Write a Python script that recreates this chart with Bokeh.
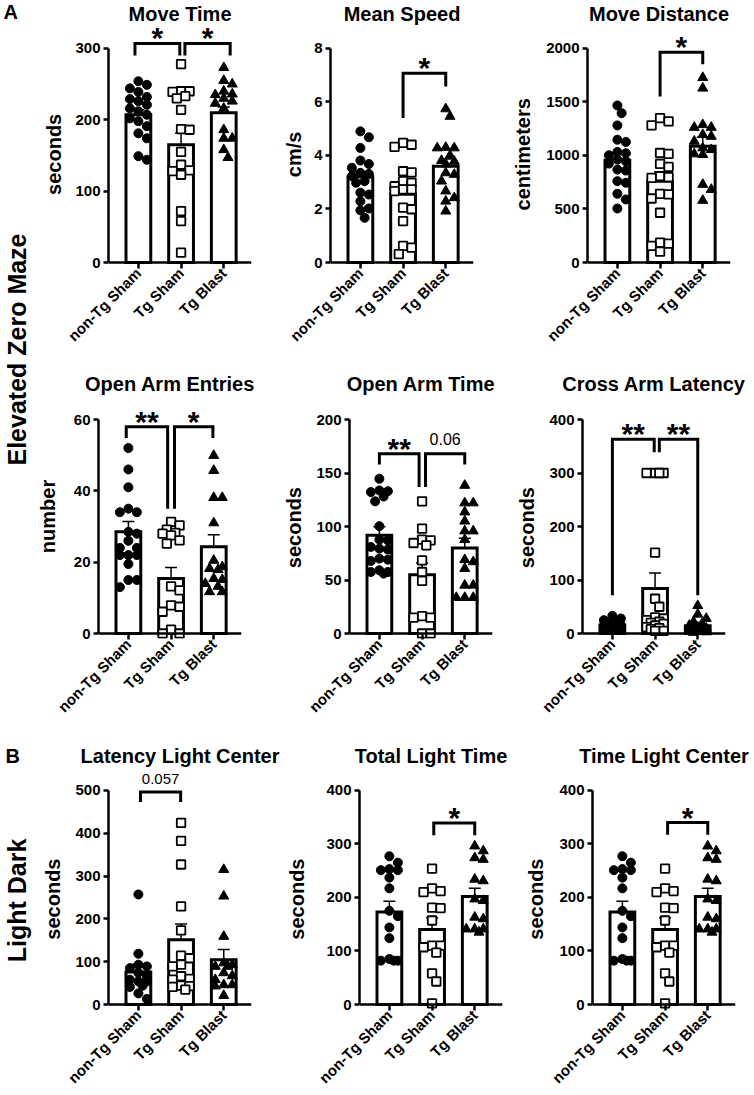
import math
from bokeh.plotting import figure
from bokeh.models import Range1d, FixedTicker, Whisker, TeeHead, ColumnDataSource, Span
from bokeh.layouts import row, column
from bokeh.embed import file_html
from bokeh.resources import INLINE
from bokeh.core.properties import value

FONT = "Liberation Sans"
GROUPS = ["non-Tg Sham", "Tg Sham", "Tg Blast"]

# ---------------- data ----------------
move_time_nontg = [254, 249, 244, 239, 232, 229, 226, 221, 216, 212, 207, 202, 198, 191, 181, 174, 149, 144]
move_time_tgsham = [278, 240, 240, 239, 233, 230, 214, 187, 186, 155, 137, 129, 128, 123, 72, 58, 14]
move_time_tgblast = [273, 255, 250, 240, 236, 235, 230, 226, 223, 216, 186, 174, 174, 158, 147]
move_time_mean = [207, 165, 210]
move_time_sem = [7, 16, 8]

mean_speed_nontg = [4.90, 4.68, 4.28, 3.81, 3.68, 3.54, 3.35, 3.31, 3.23, 3.04, 2.98, 2.61, 2.54, 2.29, 2.02, 1.95, 1.67]
mean_speed_tgsham = [4.47, 4.40, 4.32, 3.41, 3.37, 3.04, 2.98, 2.85, 2.73, 2.73, 2.67, 2.05, 1.99, 1.55, 0.62, 0.56, 0.31]
mean_speed_tgblast = [5.74, 5.46, 4.30, 4.28, 4.28, 4.00, 3.81, 3.78, 3.68, 3.35, 3.29, 3.04, 2.67, 2.42, 2.29, 1.92]
mean_speed_mean = [3.2, 2.55, 3.6]
mean_speed_sem = [0.2, 0.3, 0.27]

move_dist_nontg = [1467, 1395, 1281, 1147, 1126, 1033, 1020, 1002, 961, 946, 924, 868, 859, 760, 745, 642, 589, 505]
move_dist_tgsham = [1349, 1318, 1281, 1023, 1014, 921, 893, 806, 797, 791, 642, 636, 598, 465, 186, 177, 155, 102]
move_dist_tgblast = [1727, 1628, 1287, 1262, 1262, 1194, 1178, 1132, 1070, 1054, 1014, 1008, 729, 682, 580]
move_dist_mean = [955, 760, 1085]
move_dist_sem = [68, 88, 85]

oa_entries_nontg = [52, 46, 41, 35, 34, 34, 28.5, 28, 26, 24, 24, 22, 22, 22, 19.5, 15, 15, 13]
oa_entries_tgsham = [31.3, 30.3, 29.1, 28.2, 28, 27.5, 26.1, 25.2, 13.2, 12.1, 7.9, 7.5, 6.1, 1.1, 0, 0]
oa_entries_tgblast = [49.9, 45.7, 38.1, 38.1, 31.0, 20.5, 18.7, 18.2, 17.9, 15.4, 15.1, 14.0, 13.2, 11.7, 11.7]
oa_entries_mean = [28.5, 15.4, 24.3]
oa_entries_sem = [2.9, 3.1, 3.4]

oa_time_nontg = [144.6, 133.7, 133, 132.2, 128, 123.5, 100.3, 87.7, 87.1, 80.9, 79.3, 78.4, 70, 69, 67.8, 59.1, 57.5, 57.5, 56]
oa_time_tgsham = [123.5, 98, 87.7, 87.1, 84.6, 82.4, 68.4, 57.5, 49.1, 16.2, 14.9, 14.9, 0, 0]
oa_time_tgblast = [138.4, 122, 122, 113.5, 105, 95.8, 95.8, 87.7, 69, 67, 60.7, 45.1, 45.1, 33.6, 33.6, 33.6]
oa_time_mean = [91.8, 55, 80]
oa_time_sem = [8, 11, 9]

cross_lat_nontg = [33, 28, 25, 22, 20, 18, 16, 15, 14, 13, 12, 12, 11, 10, 9, 8, 7]
cross_lat_tgsham = [300, 300, 300, 300, 151, 65, 50, 30, 28, 25, 22, 20, 18, 15, 12, 10, 8, 5, 5]
cross_lat_tgblast = [52, 36, 28, 22, 18, 15, 12, 10, 8, 6, 5, 4, 3, 2]
cross_lat_mean = [15.5, 84, 14.5]
cross_lat_sem = [2, 29, 4]

lat_light_nontg = [257, 118.6, 93, 89, 85, 74, 66, 58, 54, 54, 44, 41, 26, 13]
lat_light_tgsham = [424, 382, 327, 229, 173, 114, 108, 93, 89, 66, 60, 58, 44, 43, 41, 35]
lat_light_tgblast = [315, 253, 159, 97, 93, 89, 89, 74, 67, 58, 46, 46, 43, 21]
lat_light_mean = [76, 151, 104.5]
lat_light_sem = [18, 37, 24]

tot_light_nontg = [277, 265, 253, 251, 251, 237, 217, 175, 165, 144, 124, 85, 82, 82, 82]
tot_light_tgsham = [254, 217, 212, 210, 181, 180, 157, 110, 110, 107, 97, 58, 43, 2]
tot_light_tgblast = [296, 287, 274, 271, 234, 231, 197, 194, 163, 160, 141, 141, 141, 135]
tot_light_mean = [173, 140, 202]
tot_light_sem = [20, 22, 15]

time_center_nontg = [277, 265, 253, 251, 251, 237, 217, 175, 165, 144, 124, 85, 82, 82, 82]
time_center_tgsham = [254, 217, 212, 210, 181, 180, 157, 110, 110, 107, 97, 58, 43, 2]
time_center_tgblast = [296, 287, 274, 271, 234, 231, 197, 194, 163, 160, 141, 141, 141, 135]
time_center_mean = [173, 140, 202]
time_center_sem = [20, 22, 15]

# significance brackets: from-x, to-x, top, left leg end, right leg end, label
move_time_br = dict(x1=[-0.08, 1.09], x2=[0.97, 2.15], top=[307, 307], lend=[290, 290], rend=[290, 290], lab=["*", "*"])
mean_speed_br = dict(x1=[1.0], x2=[2.0], top=[7.07], lend=[5.40], rend=[6.58], lab=["*"])
move_dist_br = dict(x1=[1.0], x2=[2.0], top=[1963], lend=[1550], rend=[1851], lab=["*"])
oa_entries_br = dict(x1=[-0.05, 1.08], x2=[0.92, 1.98], top=[58, 58], lend=[54.8, 35.0], rend=[35.0, 54.8], lab=["**", "*"])
oa_time_br = dict(x1=[0.0, 1.08], x2=[0.93, 2.0], top=[168, 168], lend=[158, 137], rend=[137, 158], lab=["**", "0.06"])
cross_lat_br = dict(x1=[0.0, 1.1], x2=[0.98, 2.0], top=[363, 363], lend=[71.5, 339], rend=[339, 71.5], lab=["**", "**"])
lat_light_br = dict(x1=[0.05], x2=[0.99], top=[496], lend=[473], rend=[473], lab=["0.057"])
tot_light_br = dict(x1=[1.04], x2=[2.0], top=[339], lend=[316], rend=[316], lab=["*"])
time_center_br = dict(x1=[1.06], x2=[2.0], top=[340], lend=[317], rend=[317], lab=["*"])

X0, X1 = -0.7, 2.65
NBSP = "\u00a0"
MARK = [dict(marker="circle", fill_color="black", line_color="black", size=9, line_width=1),
        dict(marker="square", fill_color="white", line_color="black", size=8.5, line_width=1.8),
        dict(marker="triangle", fill_color="black", line_color="black", size=10, line_width=1)]


def swarm(vals, ppu_y, d=8.5, maxoff=11.0):
    step = d * 0.5
    cands = [0.0]
    k = 1
    while k * step <= maxoff:
        cands += [k * step, -k * step]
        k += 1
    order = sorted(range(len(vals)), key=lambda i: -vals[i])
    placed = []
    offs = [0.0] * len(vals)
    for i in order:
        y = vals[i] * ppu_y
        chosen = None
        bestd, bestc = -1, 0.0
        for c in cands:
            md = min([math.hypot(c - px, y - py) for px, py in placed], default=1e9)
            if md >= d:
                chosen = c
                break
            if md > bestd:
                bestd, bestc = md, c
        if chosen is None:
            chosen = bestc
        offs[i] = chosen
        placed.append((chosen, y))
    return offs


def label_style(lbl):
    if set(lbl) == {"*"}:
        return "30px", "bold", 5.5
    if lbl == "0.06":
        return "16px", "normal", 15.0
    return "15px", "normal", 13.0


def make_panel(title, ylabel, ticks, pts, means, sems, br, geo):
    W, H, bl, brd, bt, bb, y0c, ytopc, als, pad = geo
    ymax = ticks[-1]
    ppu = (y0c - ytopc) / ymax
    fb = H - bb
    ystart = -(fb - y0c) / ppu
    yend = (y0c - bt) / ppu
    FW = W - bl - brd
    ppx = FW / (X1 - X0)
    p = figure(width=W, height=H, x_range=Range1d(X0, X1), y_range=Range1d(ystart, yend),
               min_border_left=bl, min_border_right=brd, min_border_top=bt, min_border_bottom=bb,
               toolbar_location=None, output_backend="svg")
    p.outline_line_color = None
    p.grid.visible = False

    p.title.text = title
    p.title.align = "center"
    p.title.standoff = 0
    p.title.text_font = FONT
    p.title.text_font_size = "20px"
    p.title.text_font_style = "bold"
    p.title.text_color = "black"

    xa = p.xaxis[0]
    xa.ticker = FixedTicker(ticks=[0, 1, 2])
    xa.major_label_overrides = {0: GROUPS[0], 1: GROUPS[1], 2: GROUPS[2]}
    xa.major_label_orientation = math.pi / 4
    xa.axis_line_color = None
    xa.major_tick_line_width = 2.5
    xa.major_tick_out = 1
    xa.major_tick_in = int(round(fb - y0c))
    xa.minor_tick_line_color = None
    xa.major_label_text_font = FONT
    xa.major_label_text_font_size = "15px"
    xa.major_label_text_font_style = "bold"
    xa.major_label_text_color = "black"
    xa.major_label_standoff = 2

    ya = p.yaxis[0]
    ya.ticker = FixedTicker(ticks=ticks)
    ya.bounds = (0, ymax)
    ya.axis_line_width = 2.5
    ya.major_tick_line_width = 2.5
    ya.major_tick_out = 5
    ya.major_tick_in = 0
    ya.minor_tick_line_color = None
    ya.major_label_text_font = FONT
    ya.major_label_text_font_size = "15px"
    ya.major_label_text_font_style = "bold"
    ya.major_label_text_color = "black"
    ya.major_label_standoff = 3
    ya.axis_label = ylabel + NBSP * pad
    ya.axis_label_standoff = als
    ya.axis_label_text_font = FONT
    ya.axis_label_text_font_size = "20px"
    ya.axis_label_text_font_style = "bold"
    ya.axis_label_text_color = "black"

    p.add_layout(Span(location=0, dimension="width", line_color="black", line_width=2.5))

    p.vbar(x=[0, 1, 2], top=means, bottom=0, width=0.58, fill_color="white",
           line_color="black", line_width=3, line_join="miter")

    for gi, vals in enumerate(pts):
        offs = swarm(vals, ppu)
        xs = [gi + o / ppx for o in offs]
        m = MARK[gi]
        p.scatter(x=xs, y=vals, marker=m["marker"], size=m["size"], fill_color=m["fill_color"],
                  line_color=m["line_color"], line_width=m["line_width"])

    src = ColumnDataSource(dict(x=[0, 1, 2], up=[m + s for m, s in zip(means, sems)],
                                lo=[m - s for m, s in zip(means, sems)]))
    wh = Whisker(base="x", upper="up", lower="lo", source=src, dimension="height",
                 line_color="black", line_width=1.5,
                 upper_head=TeeHead(size=12, line_width=1.5, line_color="black"),
                 lower_head=TeeHead(size=12, line_width=1.5, line_color="black"))
    p.add_layout(wh)

    for x1, x2, t, le, re, lab in zip(br["x1"], br["x2"], br["top"], br["lend"], br["rend"], br["lab"]):
        p.multi_line(xs=[[x1, x1, x2, x2]], ys=[[le, t, t, re]], line_color="black",
                     line_width=3, line_join="miter")
        fs, st, off = label_style(lab)
        p.text(x=[(x1 + x2) / 2], y=[t + off / ppu], text=[lab], text_align="center",
               text_baseline="alphabetic", text_font=value(FONT), text_font_size=fs,
               text_font_style=st, text_color="black")
    return p


R1 = (370, 23, 103, 262, 47)
R2 = (372, 24, 104, 263, 49)
R3 = (353, 24, 85, 263, 48)


def g(W, bl, brd, als, pad, r):
    H, bt, bb, y0c, ytopc = r
    return (W, H, bl, brd, bt, bb, y0c, ytopc, als, pad)


f1 = make_panel("Move Time", "seconds", [0, 100, 200, 300],
                [move_time_nontg, move_time_tgsham, move_time_tgblast], move_time_mean, move_time_sem,
                move_time_br, g(229, 76, 10, 7, 3, R1))
f2 = make_panel("Mean Speed", "cm/s", [0, 2, 4, 6, 8],
                [mean_speed_nontg, mean_speed_tgsham, mean_speed_tgblast], mean_speed_mean, mean_speed_sem,
                mean_speed_br, g(222, 69, 10, 6, 3, R1))
f3 = make_panel("Move Distance", "centimeters", [0, 500, 1000, 1500, 2000],
                [move_dist_nontg, move_dist_tgsham, move_dist_tgblast], move_dist_mean, move_dist_sem,
                move_dist_br, g(267, 104, 20, 9, 3, R1))
f4 = make_panel("Open Arm Entries", "number", [0, 20, 40, 60],
                [oa_entries_nontg, oa_entries_tgsham, oa_entries_tgblast], oa_entries_mean, oa_entries_sem,
                oa_entries_br, g(229, 66, 20, 12, 0, R2))
f5 = make_panel("Open Arm Time", "seconds", [0, 50, 100, 150, 200],
                [oa_time_nontg, oa_time_tgsham, oa_time_tgblast], oa_time_mean, oa_time_sem,
                oa_time_br, g(241, 88, 10, 8, 4, R2))
f6 = make_panel("Cross Arm Latency", "seconds", [0, 100, 200, 300, 400],
                [cross_lat_nontg, cross_lat_tgsham, cross_lat_tgblast], cross_lat_mean, cross_lat_sem,
                cross_lat_br, g(248, 80, 25, 8, 4, R2))
f7 = make_panel("Latency Light Center", "seconds", [0, 100, 200, 300, 400, 500],
                [lat_light_nontg, lat_light_tgsham, lat_light_tgblast], lat_light_mean, lat_light_sem,
                lat_light_br, g(249, 76, 30, 8, 4, R3))
f8 = make_panel("Total Light Time", "seconds", [0, 100, 200, 300, 400],
                [tot_light_nontg, tot_light_tgsham, tot_light_tgblast], tot_light_mean, tot_light_sem,
                tot_light_br, g(231, 78, 10, 15, 4, R3))
f9 = make_panel("Time Light Center", "seconds", [0, 100, 200, 300, 400],
                [time_center_nontg, time_center_tgsham, time_center_tgblast], time_center_mean, time_center_sem,
                time_center_br, g(238, 80, 15, 9, 4, R3))

# left strip with panel letters and section labels
pl = figure(width=32, height=1095, x_range=Range1d(0, 32), y_range=Range1d(1095, 0),
            x_axis_type=None, y_axis_type=None, min_border=0, toolbar_location=None,
            output_backend="svg")
pl.outline_line_color = None
pl.grid.visible = False
pl.text(x=[3, 5], y=[11, 755], text=["A", "B"], text_align="left", text_baseline="middle",
        text_font=value(FONT), text_font_size="20px", text_font_style="bold", text_color="black")
pl.text(x=[16], y=[349], text=["Elevated Zero Maze"], angle=math.pi / 2, text_align="center",
        text_baseline="middle", text_font=value(FONT), text_font_size="25px", text_font_style="bold",
        text_color="black")
pl.text(x=[16], y=[900], text=["Light Dark"], angle=math.pi / 2, text_align="center",
        text_baseline="middle", text_font=value(FONT), text_font_size="25px", text_font_style="bold",
        text_color="black")

layout = row(pl, column(row(f1, f2, f3), row(f4, f5, f6), row(f7, f8, f9)))
open("out.html", "w").write(file_html(layout, INLINE))
